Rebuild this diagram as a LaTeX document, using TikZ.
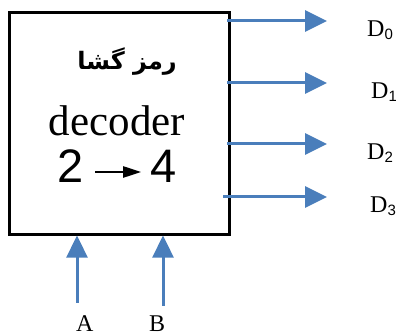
\documentclass[tikz,border=0pt]{standalone}
\usepackage{fontspec}
\setmainfont{Liberation Serif}
\newfontfamily\arabicfont[Script=Arabic]{DejaVu Sans}
\newfontfamily\digitfont{Liberation Sans}
\TeXXeTstate=1
\usetikzlibrary{positioning, arrows.meta}
\definecolor{wireblue}{RGB}{74,126,187}

\begin{document}
\begin{tikzpicture}[x=1pt, y=-1pt,
    wire/.style={draw=wireblue, line width=3pt, -{Triangle[length=22pt, width=21pt]}},
    pin/.style={inner sep=0pt, anchor=base west, font=\fontsize{24}{24}\selectfont},
    digit/.style={inner sep=0pt, font=\fontsize{47}{47}\selectfont\digitfont}]
    \useasboundingbox (0,0) rectangle (396,336);

    % the decoder block
    \node[draw, line width=2.6pt, minimum width=220pt, minimum height=222pt,
          anchor=north west, inner sep=0pt] (dec) at (8,11) {};
    \node[inner sep=0pt] (title) at (127,62) {\fontsize{24}{24}\selectfont\arabicfont\bfseries\beginR رمز گشا\endR};
    \node[inner sep=0pt] (name) at (117,121) {\fontsize{43}{43}\selectfont decoder};
    \node[digit] (two) at (71,166) {2};
    \node[digit] (four) at (163.5,166) {4};
    \draw[line width=2.2pt, -{Triangle[length=18pt, width=11pt]}, shorten <=11pt, shorten >=9pt]
        (two.east |- 0,172) -- (four.west |- 0,172);

    % outputs
    \foreach \i/\y/\x/\lx in {0/21/227/367, 1/83/227/371, 2/144/227/367, 3/197/223/370} {
        \coordinate (out\i) at (\x,\y);
        \coordinate (tip\i) at (327,\y);
        \draw[wire] (out\i) -- (tip\i);
        \node[pin] (d\i) at (\lx,\y+15.5) {D\raisebox{-3pt}{\fontsize{15}{15}\selectfont\digitfont\i}};
    }

    % inputs
    \node[pin] (a) at (76,331) {A};
    \node[pin] (b) at (149,331) {B};
    \coordinate (ina) at (77,303);
    \coordinate (inb) at (163,306);
    \draw[wire] (ina) -- (ina |- dec.south);
    \draw[wire] (inb) -- (inb |- dec.south);
\end{tikzpicture}
\end{document}
